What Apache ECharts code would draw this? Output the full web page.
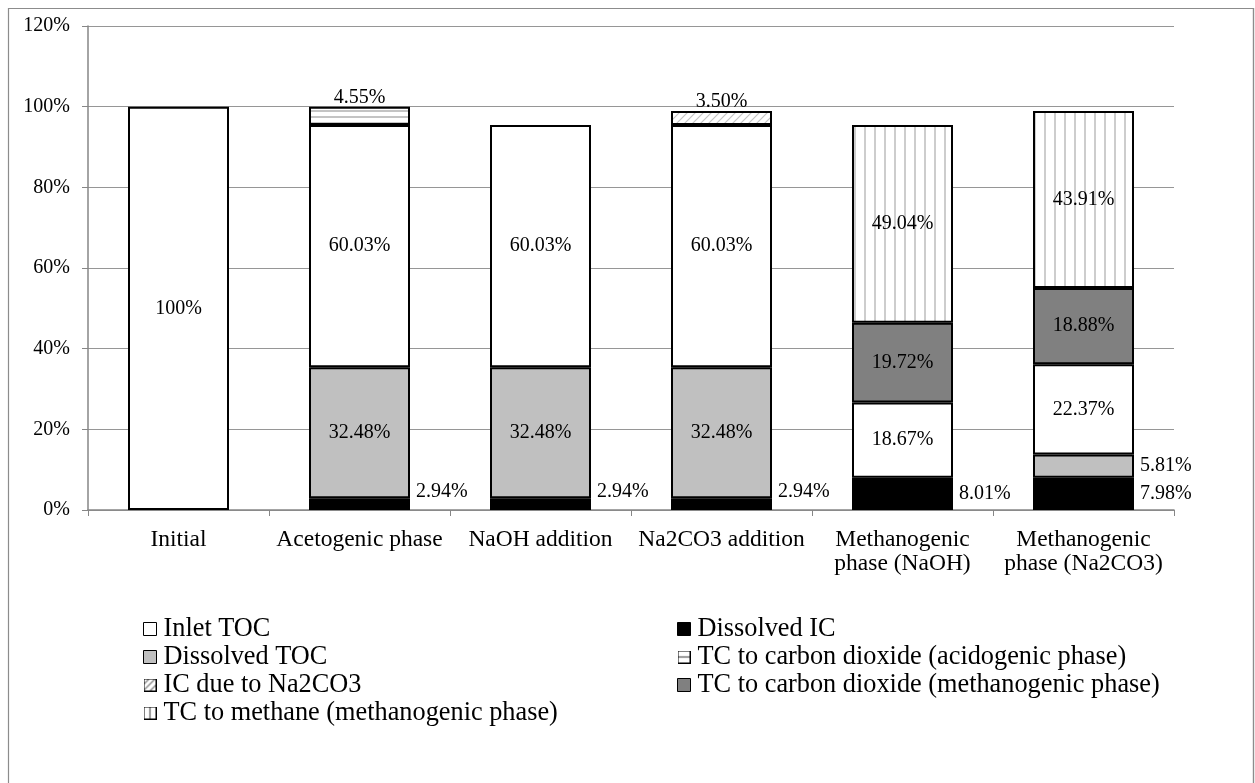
<!DOCTYPE html>
<html>
<head>
<meta charset="utf-8">
<script src="https://cdn.jsdelivr.net/npm/echarts@6/dist/echarts.min.js"></script>
<style>
html,body{margin:0;padding:0;background:#fff;}
#chart{width:1255px;height:783px;}
</style>
</head>
<body>
<div id="chart"></div>
<script>
const categories = ['Initial', 'Acetogenic phase', 'NaOH addition', 'Na2CO3 addition', 'Methanogenic\nphase (NaOH)', 'Methanogenic\nphase (Na2CO3)'];
const yTicks = [0, 20, 40, 60, 80, 100, 120];

const dissolvedIC   = [null, 2.94, 2.94, 2.94, 8.01, 7.98];
const dissolvedTOC  = [null, 32.48, 32.48, 32.48, null, 5.81];
const inletTOC      = [100, 60.03, 60.03, 60.03, 18.67, 22.37];
const co2Acid       = [null, 4.55, null, null, null, null];
const icNa2CO3      = [null, null, null, 3.50, null, null];
const co2Meth       = [null, null, null, null, 19.72, 18.88];
const methane       = [null, null, null, null, 49.04, 43.91];

const FONT = 'Liberation Serif';

function pattern(kind) {
  const c = document.createElement('canvas');
  const ctx = c.getContext('2d');
  if (kind === 'h') {
    c.width = 8; c.height = 6;
    ctx.fillStyle = '#fff'; ctx.fillRect(0, 0, 8, 6);
    ctx.strokeStyle = '#b0b0b0'; ctx.lineWidth = 1.5;
    ctx.beginPath(); ctx.moveTo(0, 3); ctx.lineTo(8, 3); ctx.stroke();
  } else if (kind === 'v') {
    c.width = 10; c.height = 10;
    ctx.fillStyle = '#fff'; ctx.fillRect(0, 0, 10, 10);
    ctx.strokeStyle = '#bdbdbd'; ctx.lineWidth = 1.5;
    ctx.beginPath(); ctx.moveTo(5, 0); ctx.lineTo(5, 10); ctx.stroke();
  } else {
    c.width = 8; c.height = 8;
    ctx.fillStyle = '#fff'; ctx.fillRect(0, 0, 8, 8);
    ctx.strokeStyle = '#c4c4c4'; ctx.lineWidth = 1.2;
    ctx.beginPath();
    ctx.moveTo(0, 8); ctx.lineTo(8, 0);
    ctx.moveTo(-2, 2); ctx.lineTo(2, -2);
    ctx.moveTo(6, 10); ctx.lineTo(10, 6);
    ctx.stroke();
  }
  return { image: c, repeat: 'repeat' };
}

function iconImage(kind) {
  const s = 13;
  const c = document.createElement('canvas');
  c.width = s; c.height = s;
  const ctx = c.getContext('2d');
  ctx.fillStyle = '#fff'; ctx.fillRect(0, 0, s, s);
  ctx.strokeStyle = '#555'; ctx.lineWidth = 1.2;
  ctx.beginPath();
  if (kind === 'h') { ctx.moveTo(0, 6.5); ctx.lineTo(s, 6.5); }
  else if (kind === 'v') { ctx.moveTo(6.5, 0); ctx.lineTo(6.5, s); }
  else {
    ctx.strokeStyle = '#777';
    ctx.moveTo(0, 6); ctx.lineTo(6, 0);
    ctx.moveTo(0, 12); ctx.lineTo(12, 0);
    ctx.moveTo(6, 13); ctx.lineTo(13, 6);
  }
  ctx.stroke();
  ctx.strokeStyle = '#000'; ctx.lineWidth = 1;
  ctx.strokeRect(0.5, 0.5, s - 1, s - 1);
  return 'image://' + c.toDataURL();
}

const fmt = p => (p.value === 100 ? '100%' : p.value.toFixed(2) + '%');
const labelBase = { show: true, fontFamily: FONT, fontSize: 20, color: '#000', formatter: fmt };

function items(arr, perItem) {
  return arr.map((v, i) => {
    if (v === null) return null;
    const o = { value: v };
    if (perItem && perItem[i]) o.label = perItem[i];
    return o;
  });
}

function series(name, arr, color, label, perItem) {
  return {
    name: name,
    type: 'bar',
    stack: 'total',
    barWidth: 101,
    data: items(arr, perItem),
    itemStyle: { color: color, borderColor: '#000', borderWidth: 2 },
    label: Object.assign({}, labelBase, label || { position: 'inside' }),
    emphasis: { disabled: true }
  };
}

const seriesList = [
  series('Dissolved IC', dissolvedIC, '#000000', { position: 'right', distance: 6 },
    [null, { offset: [0, -12] }, { offset: [0, -12] }, { offset: [0, -12] }, null, null]),
  series('Dissolved TOC', dissolvedTOC, '#c0c0c0', { position: 'inside' },
    [null, null, null, null, null, { position: 'right', distance: 6 }]),
  series('Inlet TOC', inletTOC, '#ffffff'),
  series('TC to carbon dioxide (acidogenic phase)', co2Acid, pattern('h'), { position: 'top', distance: -1 }),
  series('IC due to Na2CO3', icNa2CO3, pattern('d'), { position: 'top', distance: -1 }),
  series('TC to carbon dioxide (methanogenic phase)', co2Meth, '#808080'),
  series('TC to methane (methanogenic phase)', methane, pattern('v'))
];

const legendCommon = {
  orient: 'vertical',
  icon: 'rect',
  padding: 0,
  itemWidth: 13,
  itemHeight: 13,
  itemGap: 2,
  selectedMode: false,
  textStyle: { fontFamily: FONT, fontSize: 26.3, color: '#000', lineHeight: 26, padding: [0, 0, 0, 2] },
  itemStyle: { borderColor: '#000', borderWidth: 1 }
};

const chart = echarts.init(document.getElementById('chart'), null, { renderer: 'canvas' });
chart.setOption({
  animation: false,
  backgroundColor: '#fff',
  grid: { left: 88, right: 81, top: 26, bottom: 273 },
  graphic: [{
    type: 'rect', shape: { x: 8.5, y: 8.5, width: 1245, height: 790 },
    style: { fill: 'none', stroke: '#8c8c8c', lineWidth: 1.2 }, silent: true, z: -10
  }, {
    type: 'line', shape: { x1: 1253.5, y1: 8, x2: 1253.5, y2: 783 },
    style: { stroke: '#8c8c8c', lineWidth: 1.2 }, silent: true, z: -10
  }],
  xAxis: {
    type: 'category',
    data: categories,
    axisLine: { lineStyle: { color: '#868686', width: 1.5 } },
    axisTick: { show: true, length: 6, lineStyle: { color: '#868686' } },
    axisLabel: { fontFamily: FONT, fontSize: 23.5, color: '#000', margin: 18, lineHeight: 24, interval: 0 }
  },
  yAxis: {
    type: 'value',
    min: yTicks[0], max: yTicks[yTicks.length - 1], interval: 20,
    axisLine: { show: true, lineStyle: { color: '#868686', width: 1.5 } },
    axisTick: { show: true, length: 6, lineStyle: { color: '#868686' } },
    splitLine: { lineStyle: { color: '#969696', width: 1.2 } },
    axisLabel: { fontFamily: FONT, fontSize: 20, color: '#000', margin: 18, formatter: '{value}%' }
  },
  legend: [
    Object.assign({}, legendCommon, {
      left: 143, top: 616,
      data: [
        { name: 'Inlet TOC' },
        { name: 'Dissolved TOC' },
        { name: 'IC due to Na2CO3', icon: iconImage('d') },
        { name: 'TC to methane (methanogenic phase)', icon: iconImage('v') }
      ]
    }),
    Object.assign({}, legendCommon, {
      left: 677, top: 616,
      data: [
        { name: 'Dissolved IC' },
        { name: 'TC to carbon dioxide (acidogenic phase)', icon: iconImage('h') },
        { name: 'TC to carbon dioxide (methanogenic phase)' }
      ]
    })
  ],
  series: seriesList
});
</script>
</body>
</html>
